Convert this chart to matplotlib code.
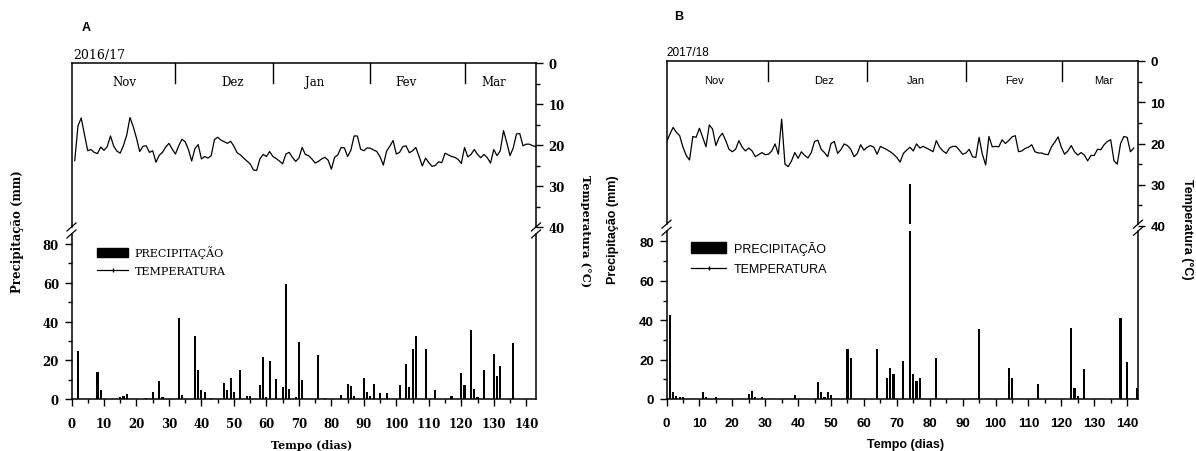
import numpy as np
import matplotlib
matplotlib.use("Agg")
import matplotlib.pyplot as plt
from matplotlib.patches import Patch
from matplotlib.lines import Line2D
from matplotlib.ticker import FixedLocator

# ---------------- data ----------------
# Panel A (2016/17)
temp_days_a = list(range(1, 144))
temp_a = [23.8, 15.3, 13.4, 17.5, 21.4, 21.1, 21.8, 22.1, 20.5, 21.3,
          20.4, 17.8, 20.3, 21.5, 22.0, 20.1, 17.6, 13.3, 15.5, 18.3,
          21.6, 20.3, 20.2, 21.8, 21.4, 24.2, 22.5, 21.8, 20.5, 19.6,
          21.0, 22.2, 20.2, 18.6, 19.2, 21.1, 23.9, 20.9, 19.9, 23.4,
          22.8, 23.2, 22.6, 18.7, 18.1, 18.8, 19.2, 19.6, 19.1, 20.3,
          21.9, 22.4, 23.2, 23.9, 24.6, 26.1, 26.2, 23.4, 22.3, 22.8,
          21.6, 22.8, 23.3, 23.9, 24.6, 22.2, 21.8, 23.0, 24.0, 23.2,
          20.6, 22.3, 22.6, 23.4, 24.4, 24.0, 23.4, 23.0, 23.7, 25.9,
          23.0, 22.4, 20.6, 20.7, 22.8, 21.3, 17.8, 17.8, 21.0, 21.4,
          20.7, 20.8, 21.2, 21.6, 22.9, 24.9, 21.5, 20.3, 18.9, 22.2,
          21.8, 20.4, 20.2, 21.9, 21.4, 20.6, 22.8, 25.1, 23.2, 24.3,
          25.2, 25.0, 24.1, 24.3, 22.0, 22.4, 22.8, 23.0, 23.5, 24.5,
          20.6, 22.9, 22.3, 21.1, 22.3, 23.1, 22.3, 23.1, 24.4, 21.1,
          22.6, 21.4, 16.5, 19.4, 22.6, 20.7, 17.3, 17.2, 20.2, 19.8,
          19.8, 20.2, 20.4]
rain_days_a = [2, 8, 9, 15, 16, 17, 23, 25, 27, 28, 33, 34, 38, 39, 40, 41, 43,
               47, 48, 49, 50, 52, 54, 55, 58, 59, 60, 61, 63, 65, 66, 67, 69,
               70, 71, 76, 78, 83, 85, 86, 87, 90, 91, 92, 93, 95, 97, 101, 103,
               104, 105, 106, 109, 112, 117, 120, 121, 123, 124, 125, 127, 130,
               131, 132, 136]
rain_a = [25, 14, 4.5, 1.2, 1.8, 2.6, 0.6, 3.4, 9.3, 0.8, 42, 2.2, 32.5, 15, 4.6,
          3.4, 0.5, 8.5, 4.8, 10.6, 3.6, 15, 1.7, 1.7, 7.2, 21.7, 0.8, 19.5, 10.3,
          6.3, 59.5, 5, 0.8, 29.6, 9.9, 22.6, 0.5, 2, 7.5, 6.8, 1.5, 10.8, 3.4,
          1.4, 7.5, 3.1, 3.1, 7.2, 18, 6, 25.8, 32.5, 25.8, 4.6, 1.5, 13.5, 7.4,
          35.4, 5.1, 0.8, 15, 23.4, 12.1, 17.1, 28.7]
month_names = ["Nov", "Dez", "Jan", "Fev", "Mar"]
month_edges_a = [32, 62, 92, 121]
month_pos_a = [16.3, 49.5, 74.8, 103, 130]

# Panel B (2017/18)
temp_days_b = list(range(0, 143))
temp_b = [19.7, 17.8, 16.1, 17.3, 18.1, 20.9, 22.9, 24.0, 18.3, 18.5,
          16.3, 18.5, 20.8, 15.5, 16.5, 20.5, 18.5, 17.5, 19.3, 21.4,
          22.0, 21.4, 19.3, 20.9, 21.8, 21.1, 21.8, 23.2, 22.7, 22.2,
          22.7, 22.6, 21.8, 20.1, 22.6, 14.1, 25.0, 25.6, 24.2, 22.2,
          23.6, 22.0, 22.9, 23.5, 22.2, 19.5, 19.2, 21.4, 22.2, 23.2,
          20.0, 19.5, 22.4, 21.5, 20.1, 20.5, 21.4, 23.2, 22.4, 20.3,
          21.6, 20.9, 20.5, 20.9, 22.6, 20.7, 21.1, 21.5, 22.0, 22.6,
          23.4, 24.5, 22.4, 21.6, 20.9, 21.8, 20.1, 21.1, 20.7, 21.1,
          21.5, 22.0, 19.3, 20.9, 21.8, 22.4, 21.1, 20.7, 20.7, 21.6,
          22.6, 22.3, 21.4, 23.2, 23.4, 18.5, 22.6, 25.2, 18.3, 20.8,
          20.7, 20.8, 19.1, 20.0, 19.3, 18.4, 18.1, 22.0, 21.8, 21.2,
          20.9, 20.3, 22.0, 22.3, 22.3, 22.6, 22.7, 20.8, 19.7, 18.4,
          20.9, 22.6, 21.8, 20.5, 22.0, 22.8, 22.2, 22.8, 24.2, 22.9,
          22.9, 21.4, 21.5, 20.3, 19.5, 19.1, 24.2, 25.0, 20.0, 18.3,
          18.5, 22.0, 21.1]
rain_days_b = [1, 2, 3, 4, 5, 11, 12, 15, 25, 26, 27, 29, 39, 46, 47, 48, 49, 50,
               55, 56, 64, 67, 68, 69, 72, 74, 75, 76, 77, 82, 95, 104, 105, 113,
               123, 124, 125, 127, 138, 140, 143]
rain_b = [42.5, 3.7, 1.7, 1.2, 1.0, 3.6, 1.2, 0.8, 2.5, 4.2, 1.0, 0.8, 2.2, 8.5,
          3.4, 1.2, 3.4, 2.0, 25.4, 20.7, 25.4, 10.7, 15.6, 12.7, 19.5, 109,
          12.6, 8.9, 10.6, 20.8, 35.7, 15.7, 10.7, 7.7, 36, 5.4, 1.4, 15.3,
          40.9, 18.7, 5.6]
month_edges_b = [31, 61, 91, 120.3]
month_pos_b = [14.5, 48, 75.8, 105.7, 133]

precip_ticks = [0, 20, 40, 60, 80]
precip_minor = [10, 30, 50, 70]
temp_ticks = [0, 10, 20, 30, 40]
temp_minor = [5, 15, 25, 35]
x_ticks = list(range(0, 141, 10))
x_minor = list(range(5, 141, 10))

# ---------------- figure ----------------
W, H = 1196, 452
fig = plt.figure(figsize=(W / 100, H / 100), dpi=100)


def add_px_axes(l, t, r, b):
    return fig.add_axes([l / W, 1 - b / H, (r - l) / W, (b - t) / H])


def panel(rect, xmax, pmax, tmax, tdays, tvals, rdays, rvals, edges, mpos,
          season, letter, fam, sz, pos):
    l, t, r, b = rect
    axw, axh = r - l, b - t
    ax = add_px_axes(l, t, r, b)
    ax.set_xlim(0, xmax)
    ax.set_ylim(0, pmax)
    lw = 1.1
    ax.bar(rdays, rvals, width=0.65, color="black", zorder=2)
    brk, gap = 87.0, 1.8
    hi = [d for d, v in zip(rdays, rvals) if v > brk + gap]
    if hi:
        ax.bar(hi, [2 * gap] * len(hi), bottom=brk - gap, width=1.2,
               color="white", linewidth=0, zorder=3)

    for s in ("left", "right"):
        ax.spines[s].set_visible(False)
    for s in ("top", "bottom"):
        ax.spines[s].set_linewidth(lw)
    bf, gf = brk / pmax, gap / pmax
    dx, dy = 4.5 / axw, 4.0 / axh
    for x in (0, 1):
        ax.plot([x, x], [0, bf - gf], transform=ax.transAxes, color="k",
                lw=lw, clip_on=False, zorder=5)
        ax.plot([x, x], [bf + gf, 1], transform=ax.transAxes, color="k",
                lw=lw, clip_on=False, zorder=5)
        for yc in (bf - gf, bf + gf):
            ax.plot([x - dx, x + dx], [yc - dy, yc + dy], transform=ax.transAxes,
                    color="k", lw=0.9, clip_on=False, zorder=5)

    tickfont = dict(fontfamily=fam, fontweight="bold", fontsize=sz["tick"])
    ax.set_xticks(x_ticks, [str(v) for v in x_ticks], **tickfont)
    ax.xaxis.set_minor_locator(FixedLocator(x_minor))
    ax.set_yticks(precip_ticks, [str(v) for v in precip_ticks], **tickfont)
    ax.yaxis.set_minor_locator(FixedLocator(precip_minor))
    ax.tick_params(axis="both", which="major", direction="out", length=5,
                   width=1.0, top=False, right=False)
    ax.tick_params(axis="both", which="minor", direction="out", length=3,
                   width=1.0, top=False, right=False)
    ax.tick_params(axis="x", which="major", pad=8)
    ax.tick_params(axis="y", which="major", pad=4)

    ax2 = ax.twinx()
    ax2.set_ylim(tmax, 0)
    for s in ax2.spines.values():
        s.set_visible(False)
    ax2.plot(tdays, tvals, color="black", lw=0.9, zorder=4)
    ax2.set_yticks(temp_ticks, [str(v) for v in temp_ticks], **tickfont)
    ax2.yaxis.set_minor_locator(FixedLocator(temp_minor))
    ax2.tick_params(axis="y", which="major", direction="out", length=5,
                    width=1.0, pad=4)
    ax2.tick_params(axis="y", which="minor", direction="out", length=3, width=1.0)
    for e in edges:
        ax2.axvline(e, ymin=1 - 20 / axh, ymax=1, color="black", lw=1.0)
    for p, name in zip(mpos, month_names):
        ax2.text(p, 4.6, name, ha="center", va="center", fontfamily=fam,
                 fontsize=sz["month"])

    handles = [Patch(facecolor="black", edgecolor="black"),
               Line2D([], [], color="black", lw=0.9, marker="|", markersize=2.5)]
    ax2.legend(handles, ["PRECIPITAÇÃO", "TEMPERATURA"], loc="center left",
               bbox_to_anchor=pos["legend"], frameon=False, borderpad=0,
               borderaxespad=0, handlelength=2.8, handleheight=0.9,
               handletextpad=0.6, labelspacing=0.65,
               prop=dict(family=fam, size=sz["legend"]))

    fig.text(pos["season"][0] / W, 1 - pos["season"][1] / H, season, ha="left",
             va="center", fontfamily=fam, fontsize=sz["season"])
    fig.text(pos["letter"][0] / W, 1 - pos["letter"][1] / H, letter, ha="center",
             va="center", fontfamily="Liberation Sans", fontweight="bold",
             fontsize=9)
    fig.text(pos["ylab"][0] / W, 1 - pos["ylab"][1] / H, "Precipitação (mm)",
             rotation=90, ha="center", va="center", fontfamily=fam,
             fontweight="bold", fontsize=sz["ylab"])
    fig.text(pos["ylab2"][0] / W, 1 - pos["ylab2"][1] / H, "Temperatura (°C)",
             rotation=270, ha="center", va="center", fontfamily=fam,
             fontweight="bold", fontsize=sz["ylab2"])
    fig.text(pos["xlab"][0] / W, 1 - pos["xlab"][1] / H, "Tempo (dias)",
             ha="center", va="center", fontfamily=fam, fontweight="bold",
             fontsize=sz["xlab"])
    return ax, ax2


panel((71.5, 64, 536, 400), 143, 336 / 1.9375, 336 / 4.1,
      temp_days_a, temp_a, rain_days_a, rain_a, month_edges_a, month_pos_a,
      "2016/17", "A", "DejaVu Serif",
      dict(tick=8.5, month=8.5, season=9, legend=8, ylab=8.5, ylab2=8.2, xlab=8),
      dict(legend=(0.055, 0.412), season=(73, 55), letter=(86, 28),
           ylab=(18, 232), ylab2=(585, 231), xlab=(311.5, 446)))

panel((666.5, 62, 1138, 400), 143.3, 338 / 1.969, 338 / 4.125,
      temp_days_b, temp_b, rain_days_b, rain_b, month_edges_b, month_pos_b,
      "2017/18", "B", "Liberation Sans",
      dict(tick=9.5, month=8, season=8.5, legend=9, ylab=9, ylab2=9, xlab=9),
      dict(legend=(0.052, 0.417), season=(666, 53), letter=(679, 17),
           ylab=(613, 230), ylab2=(1187, 229), xlab=(905.5, 445)))

fig.savefig("out.png", dpi=100)
